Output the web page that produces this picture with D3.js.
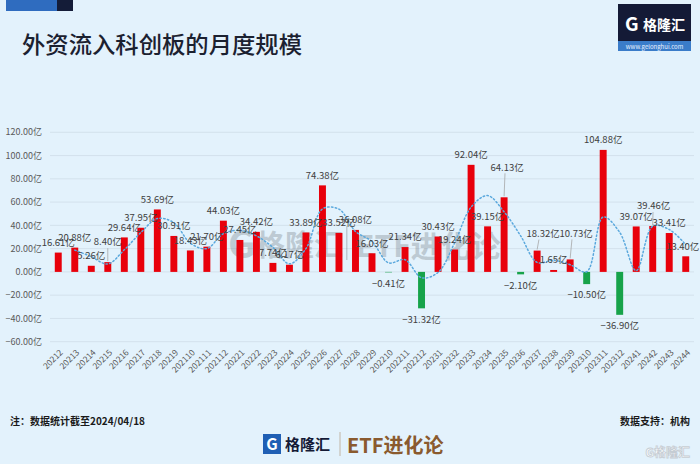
<!DOCTYPE html>
<html>
<head>
<meta charset="utf-8">
<script src="https://d3js.org/d3.v7.min.js"></script>
<style>
  html, body { margin: 0; padding: 0; background: #e3f2fc; }
  svg { display: block; font-family: "Noto Sans CJK SC", "Noto Sans", sans-serif; }
</style>
</head>
<body>
<svg id="chart" width="700" height="464"></svg>
<script>
// monthly categories (year + month)
const months = ['20212','20213','20214','20215','20216','20217','20218','20219','202110','202111','202112',
  '20221','20222','20223','20224','20225','20226','20227','20228','20229','202210','202211','202212',
  '20231','20232','20233','20234','20235','20236','20237','20238','20239','202310','202311','202312',
  '20241','20242','20243','20244'];

// net inflow, 亿
const inflow = [16.61, 20.88, 5.26, 8.40, 29.64, 37.95, 53.69, 30.91, 18.43, 21.70, 44.03,
  27.45, 34.42, 7.74, 6.17, 33.89, 74.38, 33.52, 36.08, 16.03, -0.41, 21.34, -31.32,
  30.43, 19.24, 92.04, 39.15, 64.13, -2.10, 18.32, 1.65, 10.73, -10.50, 104.88, -36.90,
  39.07, 39.46, 33.41, 13.40];

// dotted trend line (2-month moving average), starts at 20213
const trend = [18.75, 13.07, 6.83, 19.02, 33.80, 45.82, 42.30, 24.67, 20.07, 32.87,
  35.74, 30.94, 21.08, 6.96, 20.03, 54.14, 53.95, 34.80, 26.06, 7.81, 10.47, -4.99,
  -0.45, 24.84, 55.64, 65.60, 51.64, 31.02, 8.11, 9.99, 6.19, 0.12, 47.19, 33.99,
  1.09, 39.27, 36.44, 23.41];

const yTicks = [-60, -40, -20, 0, 20, 40, 60, 80, 100, 120];

const svg = d3.select('#chart');

const x = d3.scaleBand()
  .domain(months)
  .range([50, 694])
  .paddingInner(0.58)
  .paddingOuter(0.29);

const y = d3.scaleLinear()
  .domain([-60, 120])
  .range([341.7, 132.3]);

// header
svg.append('rect').attr('x', 6).attr('y', 0).attr('width', 51).attr('height', 11).attr('fill', '#2f6cbf');
svg.append('rect').attr('x', 57).attr('y', 0).attr('width', 16).attr('height', 11).attr('fill', '#141c38');

svg.append('text')
  .attr('x', 22)
  .attr('y', 53)
  .attr('font-size', 23)
  .attr('font-weight', 500)
  .attr('fill', '#1b2130')
  .attr('textLength', 280)
  .attr('lengthAdjust', 'spacingAndGlyphs')
  .text('外资流入科创板的月度规模');

// logo top right
const logo = svg.append('g');
logo.append('rect').attr('x', 618).attr('y', 4).attr('width', 73).attr('height', 37).attr('fill', '#141a36');
logo.append('rect').attr('x', 618).attr('y', 41).attr('width', 73).attr('height', 10).attr('fill', '#3a7cc9');
logo.append('text').attr('x', 625).attr('y', 31).attr('font-size', 19).attr('font-weight', 700)
  .attr('fill', '#fff').text('G');
logo.append('text').attr('x', 643).attr('y', 30).attr('font-size', 14).attr('font-weight', 700)
  .attr('fill', '#fff').text('格隆汇');
logo.append('text').attr('x', 654.5).attr('y', 48.5).attr('font-size', 6).attr('text-anchor', 'middle')
  .attr('fill', '#e6f0ff').text('www.gelonghui.com');

// gridlines + y labels
const grid = svg.append('g');
grid.selectAll('line')
  .data(yTicks)
  .join('line')
  .attr('x1', 50)
  .attr('x2', 694)
  .attr('y1', d => y(d))
  .attr('y2', d => y(d))
  .attr('stroke', '#d3e1ec')
  .attr('stroke-width', 1);

svg.append('g')
  .selectAll('text')
  .data(yTicks)
  .join('text')
  .attr('x', 42)
  .attr('y', d => y(d))
  .attr('dy', '0.35em')
  .attr('text-anchor', 'end')
  .attr('font-size', 9)
  .attr('fill', '#5a5a5a')
  .text(d => d3.format('.2f')(d) + '亿');

// watermark behind marks
const wm = svg.append('g').attr('opacity', 0.32).attr('fill', '#6f7880');
wm.append('text').attr('x', 228).attr('y', 258).attr('font-size', 38).attr('font-weight', 700).text('G');
wm.append('text').attr('x', 256).attr('y', 256).attr('font-size', 29).attr('font-weight', 700).text('格隆汇');
wm.append('rect').attr('x', 346).attr('y', 226).attr('width', 1.5).attr('height', 34);
wm.append('text').attr('x', 356).attr('y', 257).attr('font-size', 30).attr('font-weight', 700).text('ETF进化论');

// bars
svg.append('g')
  .selectAll('rect')
  .data(inflow)
  .join('rect')
  .attr('x', (d, i) => x(months[i]))
  .attr('width', x.bandwidth())
  .attr('y', d => y(Math.max(0, d)))
  .attr('height', d => Math.abs(y(d) - y(0)))
  .attr('fill', d => d >= 0 ? '#e8000b' : '#17a34a');

// trend line
const line = d3.line()
  .x((d, i) => x(months[i + 1]) + x.bandwidth() / 2)
  .y(d => y(d))
  .curve(d3.curveCatmullRom);

svg.append('path')
  .datum(trend)
  .attr('fill', 'none')
  .attr('stroke', '#5aa8dd')
  .attr('stroke-width', 1.5)
  .attr('stroke-dasharray', '1.4 2.4')
  .attr('stroke-linecap', 'round')
  .attr('d', line);

// labels that were dragged away from the bar: [dx, extra lift]
const labelNudge = {
  '20215': [0, 10],
  '20235': [3, 20],
  '20237': [6, 7],
  '20239': [6, 16],
  '20242': [1, 10],
  '20244': [-3, 0]
};

const labels = svg.append('g');
inflow.forEach((d, i) => {
  const cx = x(months[i]) + x.bandwidth() / 2;
  const nudge = labelNudge[months[i]] || [0, 0];
  const ly = d >= 0 ? y(d) - 10 - nudge[1] : y(d) + 11;
  if (nudge[1] > 0) {
    labels.append('line')
      .attr('x1', cx + nudge[0] * 0.3)
      .attr('x2', cx)
      .attr('y1', ly + 6)
      .attr('y2', y(d) - 1)
      .attr('stroke', '#a6a6a6')
      .attr('stroke-width', 0.8);
  }
  labels.append('text')
    .attr('x', cx + nudge[0])
    .attr('y', ly)
    .attr('dy', '0.35em')
    .attr('text-anchor', 'middle')
    .attr('font-size', 9.5)
    .attr('fill', '#404040')
    .text(d3.format('.2f')(d) + '亿');
});

// x labels, rotated
svg.append('g')
  .selectAll('text')
  .data(months)
  .join('text')
  .attr('transform', d => `translate(${x(d) + x.bandwidth() / 2 + 3},${351}) rotate(-45)`)
  .attr('text-anchor', 'end')
  .attr('dy', '0.35em')
  .attr('font-size', 8.5)
  .attr('fill', '#5a5a5a')
  .text(d => d);

// footer
svg.append('text').attr('x', 10).attr('y', 425).attr('font-size', 10).attr('font-weight', 700)
  .attr('fill', '#1a1a1a').text('注：数据统计截至2024/04/18');
svg.append('text').attr('x', 690).attr('y', 425).attr('font-size', 10).attr('font-weight', 700)
  .attr('text-anchor', 'end').attr('fill', '#1a1a1a').text('数据支持：机构');

const foot = svg.append('g');
foot.append('rect').attr('x', 263).attr('y', 434).attr('width', 18).attr('height', 20).attr('fill', '#1f5fb4');
foot.append('text').attr('x', 272).attr('y', 450).attr('text-anchor', 'middle').attr('font-size', 16)
  .attr('font-weight', 700).attr('fill', '#fff').text('G');
foot.append('text').attr('x', 285).attr('y', 450).attr('font-size', 15).attr('font-weight', 700)
  .attr('fill', '#141a36').text('格隆汇');
foot.append('line').attr('x1', 340).attr('x2', 340).attr('y1', 432).attr('y2', 456)
  .attr('stroke', '#b9a68f').attr('stroke-width', 0.8);
foot.append('text').attr('x', 347).attr('y', 453).attr('font-size', 20).attr('font-weight', 700)
  .attr('fill', '#8a5a2e').text('ETF进化论');

svg.append('text').attr('x', 690).attr('y', 457).attr('text-anchor', 'end').attr('font-size', 12)
  .attr('font-weight', 700).attr('fill', '#fff').attr('stroke', '#c5ccd3').attr('stroke-width', 0.8)
  .text('G格隆汇');
</script>
</body>
</html>
